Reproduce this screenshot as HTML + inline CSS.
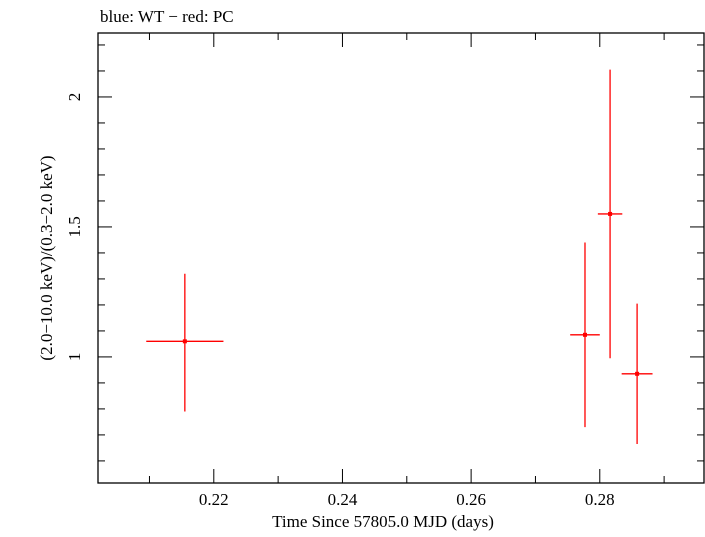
<!DOCTYPE html>
<html><head><meta charset="utf-8"><style>
body{margin:0;background:#fff;}
svg text{font-family:"Liberation Serif",serif;fill:#000;}
</style></head><body>
<svg id="chart" width="705" height="532" viewBox="0 0 705 532" xmlns="http://www.w3.org/2000/svg">
<text x="100" y="22" font-size="17">blue: WT − red: PC</text>
<rect x="98" y="33" width="606" height="450" fill="none" stroke="#000" stroke-width="1.3"/>
<g id="axes"></g>
<g id="marks"></g>
<text x="383" y="527" font-size="17" text-anchor="middle">Time Since 57805.0 MJD (days)</text>
<text transform="translate(52,258) rotate(-90)" font-size="17" text-anchor="middle">(2.0−10.0 keV)/(0.3−2.0 keV)</text>
</svg>
<script>
const xTicks=[0.22,0.24,0.26,0.28];
const xTickLabels=["0.22","0.24","0.26","0.28"];
const yTicks=[1,1.5,2];
const yTickLabels=["1","1.5","2"];
const times=[0.2155,0.2777,0.2816,0.2858];
const timeErr=[0.006,0.0023,0.0019,0.0024];
const ratios=[1.06,1.085,1.55,0.935];
const ratioLo=[0.79,0.73,0.995,0.665];
const ratioHi=[1.32,1.44,2.105,1.205];
const X0=98,X1=704,Y0=483,Y1=33;
const xmin=0.2020,xmax=0.2962,ymin=0.515,ymax=2.246;
const sx=v=>X0+(v-xmin)/(xmax-xmin)*(X1-X0);
const sy=v=>Y0-(v-ymin)/(ymax-ymin)*(Y0-Y1);
const NS="http://www.w3.org/2000/svg";
const axes=document.getElementById('axes'),marks=document.getElementById('marks');
function ln(p,x1,y1,x2,y2,c,w){const l=document.createElementNS(NS,'line');l.setAttribute('x1',x1);l.setAttribute('y1',y1);l.setAttribute('x2',x2);l.setAttribute('y2',y2);l.setAttribute('stroke',c);l.setAttribute('stroke-width',w);p.appendChild(l);return l;}
function tx(x,y,s,a){const t=document.createElementNS(NS,'text');t.setAttribute('x',x);t.setAttribute('y',y);t.setAttribute('font-size',17);t.setAttribute('text-anchor',a);t.textContent=s;axes.appendChild(t);return t;}
for(let i=21;i<=29;i++){const v=i/100,x=sx(v),maj=(i%2===0);const L=maj?14:7;
 const a=ln(axes,x,Y0,x,Y0-L,'#000',1);
 
 
 const b=ln(axes,x,Y1,x,Y1+L,'#000',1);
 
 }
xTicks.forEach((v,i)=>{const t=tx(sx(v),505,xTickLabels[i],'middle');
 
 });
for(let i=6;i<=22;i++){const v=i/10,y=sy(v),maj=(i%5===0);const L=maj?14:7;
 const a=ln(axes,X0,y,X0+L,y,'#000',1);
 
 
 const b=ln(axes,X1,y,X1-L,y,'#000',1);
 
 }
yTicks.forEach((v,i)=>{const t=document.createElementNS(NS,'text');
 t.setAttribute('transform',`translate(80,${sy(v)}) rotate(-90)`);t.setAttribute('font-size',17);t.setAttribute('text-anchor','middle');t.textContent=yTickLabels[i];
 
 
 axes.appendChild(t);});
times.forEach((t,i)=>{const g=document.createElementNS(NS,'g');
 
 
 ln(g,sx(t-timeErr[i]),sy(ratios[i]),sx(t+timeErr[i]),sy(ratios[i]),'#f00',1.3);
 ln(g,sx(t),sy(ratioLo[i]),sx(t),sy(ratioHi[i]),'#f00',1.3);
 const c=document.createElementNS(NS,'rect');c.setAttribute('x',sx(t)-2);c.setAttribute('y',sy(ratios[i])-2);c.setAttribute('width',4);c.setAttribute('height',4);c.setAttribute('fill','#f00');g.appendChild(c);
 marks.appendChild(g);});
</script>
</body></html>
